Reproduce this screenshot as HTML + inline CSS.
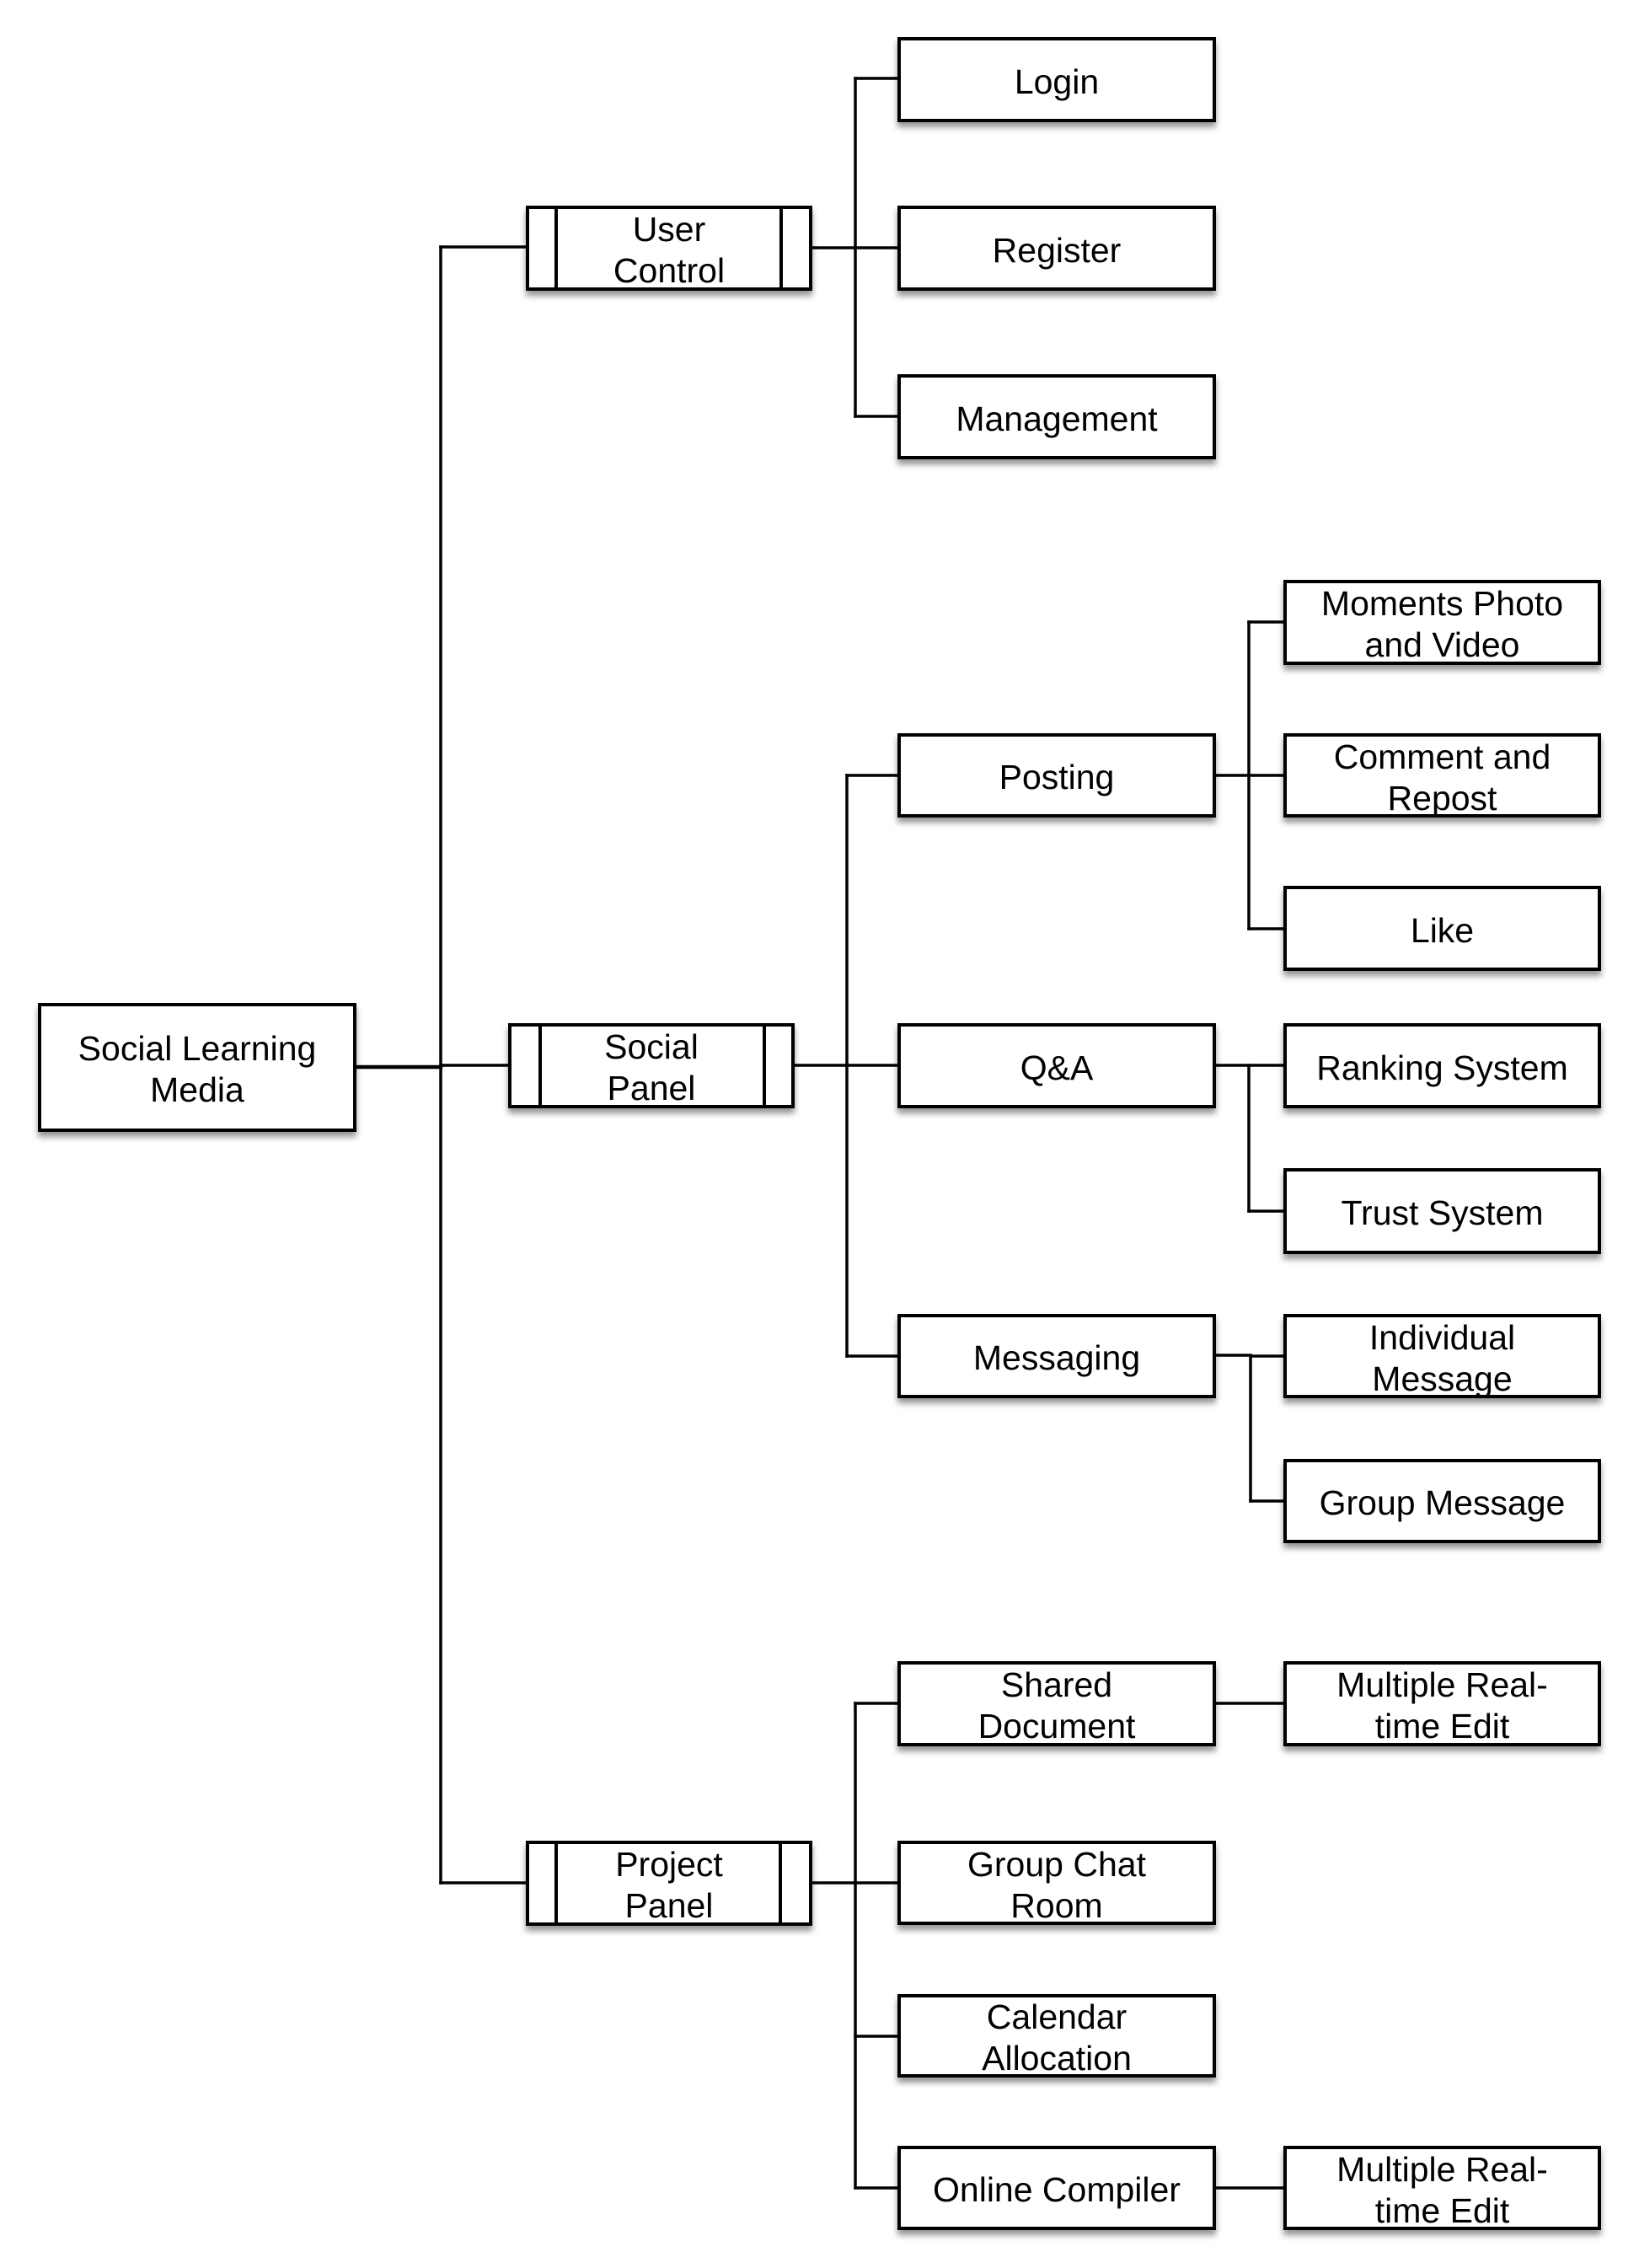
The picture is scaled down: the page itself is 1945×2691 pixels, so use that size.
<!DOCTYPE html>
<html>
<head>
<meta charset="utf-8">
<style>
  html, body { margin:0; padding:0; background:#fff; }
  body { width:1945px; height:2691px; position:relative; overflow:hidden; }
  .b {
    position:absolute; box-sizing:border-box; border:4px solid #000; background:#fff;
    box-shadow: 0 6px 7px rgba(0,0,0,0.42);
    display:flex; align-items:center; justify-content:center; text-align:center;
    font-family:"Liberation Sans", Arial, sans-serif; font-size:41px; line-height:49px; color:#000;
    padding-top:5px;
  }
  .b span { display:block; white-space:nowrap; }
  .bar { position:absolute; top:0; bottom:0; width:4px; background:#000; }
  svg { position:absolute; left:0; top:0; }
</style>
</head>
<body>

<!-- Level 0 -->
<div class="b" style="left:45px;top:1190px;width:378px;height:153px;"><span>Social Learning<br>Media</span></div>

<!-- Level 1 -->
<div class="b" style="left:624px;top:244px;width:340px;height:101px;">
  <div class="bar" style="left:30px;"></div><div class="bar" style="right:31px;"></div>
  <span>User<br>Control</span></div>
<div class="b" style="left:603px;top:1214px;width:340px;height:101px;">
  <div class="bar" style="left:32px;"></div><div class="bar" style="right:30px;"></div>
  <span>Social<br>Panel</span></div>
<div class="b" style="left:624px;top:2184px;width:340px;height:101px;">
  <div class="bar" style="left:30px;"></div><div class="bar" style="right:32px;"></div>
  <span>Project<br>Panel</span></div>

<!-- Level 2 -->
<div class="b" style="left:1065px;top:44px;width:378px;height:101px;"><span>Login</span></div>
<div class="b" style="left:1065px;top:244px;width:378px;height:101px;"><span>Register</span></div>
<div class="b" style="left:1065px;top:444px;width:378px;height:101px;"><span>Management</span></div>
<div class="b" style="left:1065px;top:870px;width:378px;height:100px;"><span>Posting</span></div>
<div class="b" style="left:1065px;top:1214px;width:378px;height:101px;"><span>Q&amp;A</span></div>
<div class="b" style="left:1065px;top:1559px;width:378px;height:100px;"><span>Messaging</span></div>
<div class="b" style="left:1065px;top:1971px;width:378px;height:101px;"><span>Shared<br>Document</span></div>
<div class="b" style="left:1065px;top:2184px;width:378px;height:100px;"><span>Group Chat<br>Room</span></div>
<div class="b" style="left:1065px;top:2366px;width:378px;height:99px;"><span>Calendar<br>Allocation</span></div>
<div class="b" style="left:1065px;top:2546px;width:378px;height:100px;"><span>Online Compiler</span></div>

<!-- Level 3 -->
<div class="b" style="left:1523px;top:688px;width:377px;height:101px;"><span>Moments Photo<br>and Video</span></div>
<div class="b" style="left:1523px;top:870px;width:377px;height:100px;"><span>Comment and<br>Repost</span></div>
<div class="b" style="left:1523px;top:1051px;width:377px;height:101px;"><span>Like</span></div>
<div class="b" style="left:1523px;top:1214px;width:377px;height:101px;"><span>Ranking System</span></div>
<div class="b" style="left:1523px;top:1386px;width:377px;height:102px;"><span>Trust System</span></div>
<div class="b" style="left:1523px;top:1559px;width:377px;height:100px;"><span>Individual<br>Message</span></div>
<div class="b" style="left:1523px;top:1731px;width:377px;height:100px;"><span>Group Message</span></div>
<div class="b" style="left:1523px;top:1971px;width:377px;height:101px;"><span>Multiple Real-<br>time Edit</span></div>
<div class="b" style="left:1523px;top:2546px;width:377px;height:100px;"><span>Multiple Real-<br>time Edit</span></div>

<svg width="1945" height="2691" viewBox="0 0 1945 2691" fill="none" stroke="#000" stroke-width="3.5" stroke-linecap="square">
  <!-- main trunk -->
  <line x1="523" y1="293" x2="523" y2="2234"/>
  <line x1="423" y1="1266" x2="523" y2="1266" stroke-width="4.5"/>
  <line x1="523" y1="1264" x2="603" y2="1264"/>
  <line x1="523" y1="293" x2="624" y2="293"/>
  <line x1="523" y1="2234" x2="624" y2="2234"/>

  <!-- user control -->
  <line x1="964" y1="294" x2="1065" y2="294"/>
  <line x1="1015" y1="93" x2="1015" y2="494"/>
  <line x1="1015" y1="93" x2="1065" y2="93"/>
  <line x1="1015" y1="494" x2="1065" y2="494"/>

  <!-- social panel -->
  <line x1="943" y1="1264" x2="1065" y2="1264"/>
  <line x1="1005" y1="920" x2="1005" y2="1609"/>
  <line x1="1005" y1="920" x2="1065" y2="920"/>
  <line x1="1005" y1="1609" x2="1065" y2="1609"/>

  <!-- posting -->
  <line x1="1443" y1="920" x2="1523" y2="920"/>
  <line x1="1482" y1="738" x2="1482" y2="1102"/>
  <line x1="1482" y1="738" x2="1523" y2="738"/>
  <line x1="1482" y1="1102" x2="1523" y2="1102"/>

  <!-- q&a -->
  <line x1="1443" y1="1264" x2="1523" y2="1264"/>
  <line x1="1482" y1="1264" x2="1482" y2="1437"/>
  <line x1="1482" y1="1437" x2="1523" y2="1437"/>

  <!-- messaging -->
  <line x1="1443" y1="1608" x2="1484" y2="1608"/>
  <line x1="1484" y1="1609" x2="1523" y2="1609"/>
  <line x1="1484" y1="1609" x2="1484" y2="1781"/>
  <line x1="1484" y1="1781" x2="1523" y2="1781"/>

  <!-- project panel -->
  <line x1="964" y1="2234" x2="1065" y2="2234"/>
  <line x1="1015" y1="2021" x2="1015" y2="2596"/>
  <line x1="1015" y1="2021" x2="1065" y2="2021"/>
  <line x1="1015" y1="2416" x2="1065" y2="2416"/>
  <line x1="1015" y1="2596" x2="1065" y2="2596"/>
  <line x1="1443" y1="2021" x2="1523" y2="2021"/>
  <line x1="1443" y1="2596" x2="1523" y2="2596"/>
</svg>

</body>
</html>
